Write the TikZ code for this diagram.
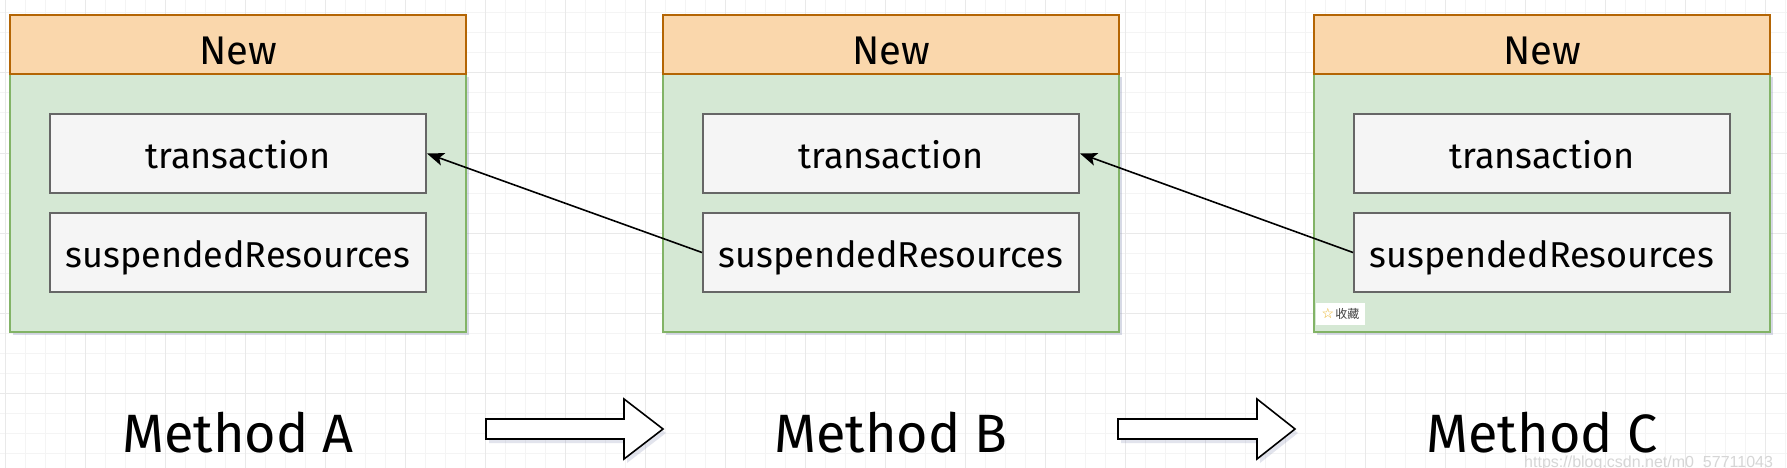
\documentclass[tikz,border=0pt]{standalone}
\usepackage{fontspec}
\setmainfont{Fira Sans}
\newfontfamily\cjkfont{Noto Sans CJK SC}
\newfontfamily\symfont{DejaVu Sans}
\newfontfamily\wmfont{Liberation Sans}
\usetikzlibrary{arrows.meta,shadows}
\definecolor{hdrfill}{HTML}{FAD7AC}
\definecolor{hdrdraw}{HTML}{B46504}
\definecolor{bodyfill}{HTML}{D5E8D4}
\definecolor{bodydraw}{HTML}{82B366}
\definecolor{itemfill}{HTML}{F5F5F5}
\definecolor{itemdraw}{HTML}{666666}
\definecolor{gridminor}{HTML}{F4F4F4}
\definecolor{gridmajor}{HTML}{E9E9E9}
\definecolor{shadowc}{HTML}{8E95B8}
\definecolor{starc}{HTML}{E8B020}
\definecolor{wmc}{HTML}{D6D6D6}
\tikzset{
  boxshadow/.style={drop shadow={shadow xshift=3pt,shadow yshift=-3pt,fill=shadowc,opacity=0.35}},
  hdrbox/.style={draw=hdrdraw,fill=hdrfill,line width=2pt,minimum width=456pt,minimum height=59pt,inner sep=0pt,
    font=\fontsize{40}{40}\selectfont,text height=42pt,text depth=1pt},
  bodybox/.style={draw=bodydraw,fill=bodyfill,line width=2pt,minimum width=456pt,minimum height=258pt,inner sep=0pt,boxshadow},
  itembox/.style={draw=itemdraw,fill=itemfill,line width=2pt,minimum width=376pt,minimum height=79pt,inner sep=0pt,
    font=\fontsize{36}{36}\selectfont,text height=32pt,text depth=3pt},
  methodlbl/.style={anchor=base,inner sep=0pt,font=\fontsize{54}{54}\selectfont},
  conn/.style={line width=1.6pt,-{Stealth[length=17pt,width=13pt,inset=4pt]}},
  blockarrow/.style={draw=black,fill=white,line width=1.6pt,line join=miter,
    drop shadow={shadow xshift=3pt,shadow yshift=-4pt,fill=shadowc,opacity=0.25}},
  minorline/.style={draw=gridminor,line width=1pt},
  majorline/.style={draw=gridmajor,line width=1pt}
}
\begin{document}
\begin{tikzpicture}[x=1pt,y=-1pt]
\useasboundingbox (0,0) rectangle (1787,468);
\fill[white] (0,0) rectangle (1787,468);
% grid
\foreach \gx in {5,25,...,1785} \draw[minorline] (\gx,0) -- (\gx,468);
\foreach \gy in {13,33,...,465} \draw[minorline] (0,\gy) -- (1787,\gy);
\foreach \gx in {5,85,...,1785} \draw[majorline] (\gx,0) -- (\gx,468);
\foreach \gy in {73,153,...,465} \draw[majorline] (0,\gy) -- (1787,\gy);
% boxes
\foreach \n/\cx in {A/238,B/891,C/1542}{
  \node[bodybox] (body\n) at (\cx,203) {};
  \node[hdrbox] (hdr\n) at (\cx,44.5) {New};
  \node[itembox] (tr\n) at (\cx,153.5) {transaction};
  \node[itembox] (su\n) at (\cx,252.5) {suspendedResources};
  \node[methodlbl] (lbl\n) at (\cx,452) {Method \n};
}
% connectors
\draw[conn] (suB.west) -- (trA.east);
\draw[conn] (suC.west) -- (trB.east);
% block arrows
\coordinate (ba1) at (486,419);
\coordinate (ba2) at (1118,419);
\path[blockarrow] (ba1) -- ++(138,0) -- ++(0,-20) -- ++(39,30) -- ++(-39,30) -- ++(0,-20) -- ++(-138,0) -- cycle;
\path[blockarrow] (ba2) -- ++(139,0) -- ++(0,-20) -- ++(38,30) -- ++(-38,30) -- ++(0,-20) -- ++(-139,0) -- cycle;
% badge
\node[fill=white,minimum width=49pt,minimum height=22pt,inner sep=0pt] (badge) at (1340.5,314)
  {{\symfont\fontsize{14}{14}\selectfont\color{starc}☆}\hspace{1pt}{\cjkfont\fontsize{12}{12}\selectfont\color{black!75}收藏}};
% watermark
\node[anchor=base west,inner sep=0pt,text=wmc,font=\wmfont\fontsize{16}{16}\selectfont] (wm) at (1524,467) {https://blog.csdn.net/m0\_57711043};
\end{tikzpicture}
\end{document}
